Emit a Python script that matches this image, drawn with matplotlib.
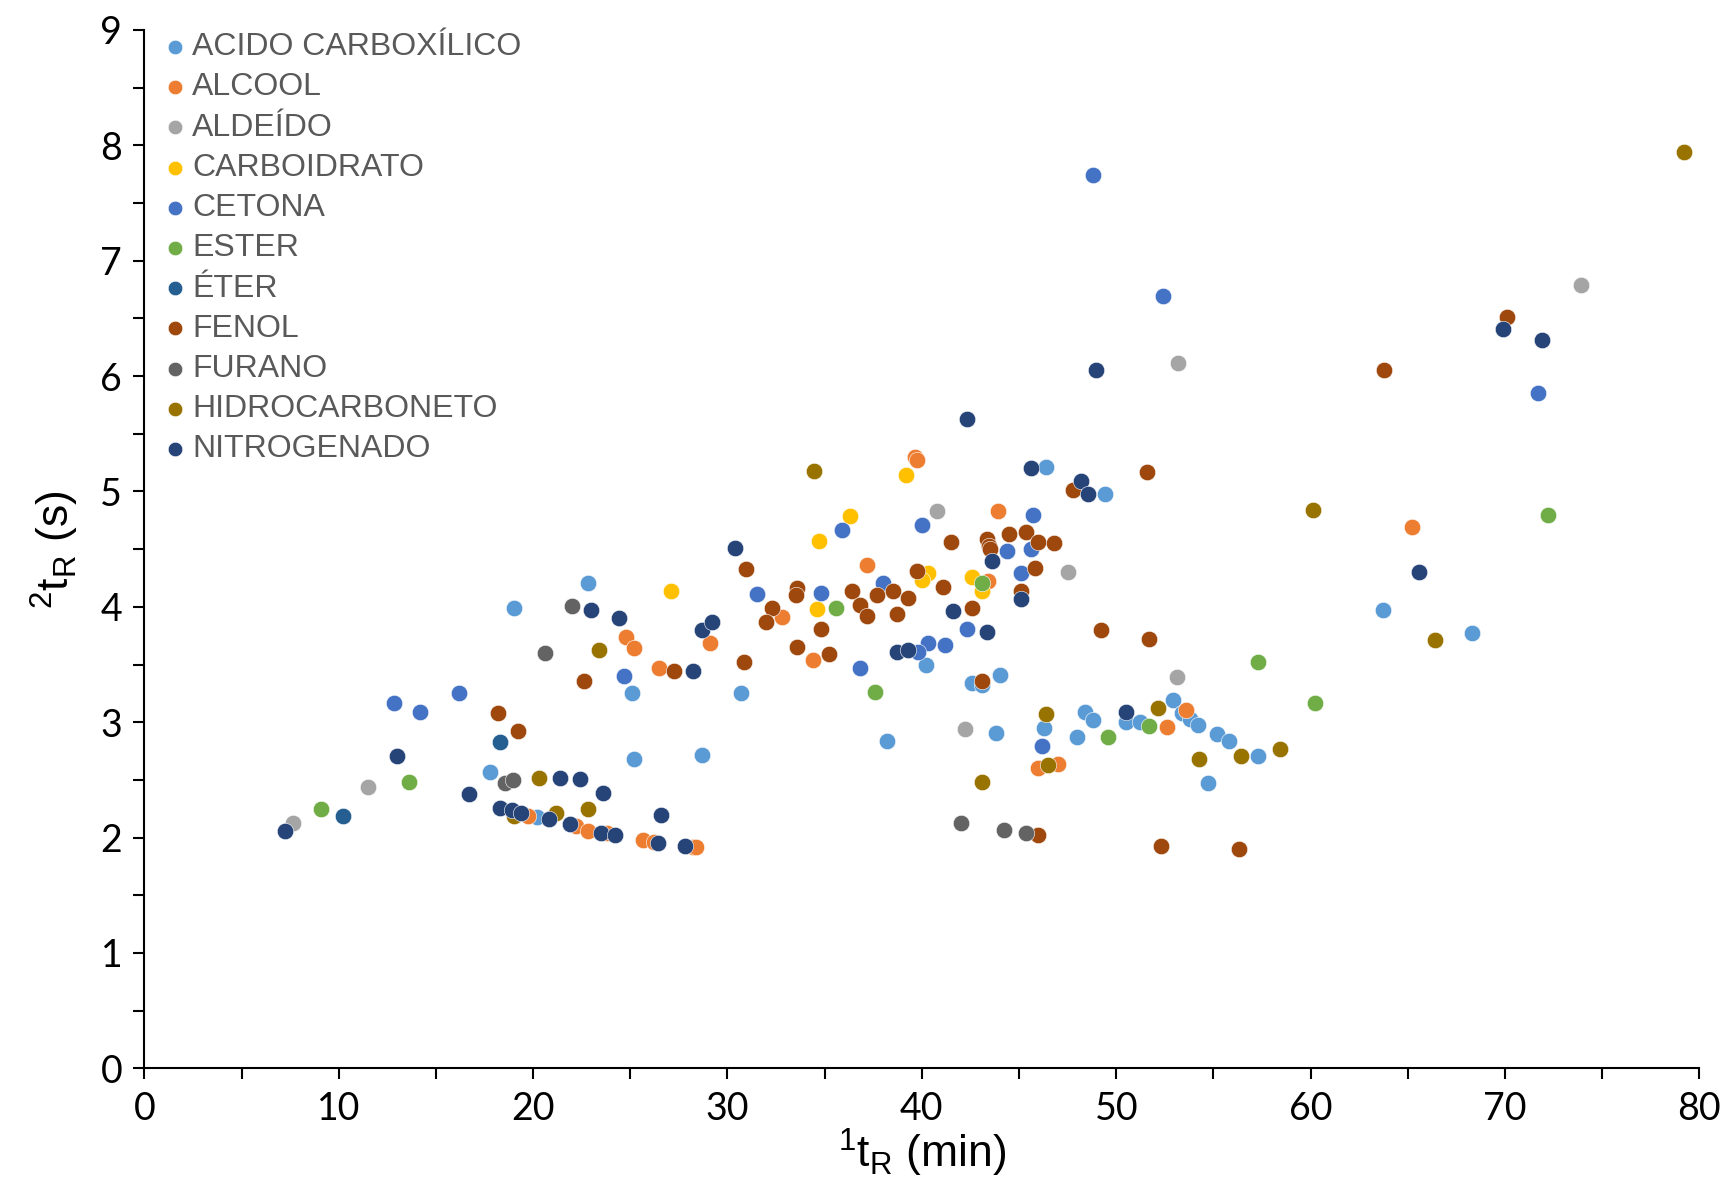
import matplotlib
matplotlib.use("Agg")
import matplotlib.pyplot as plt
from matplotlib.ticker import MultipleLocator

plt.rcParams['font.family'] = ['Liberation Sans', 'DejaVu Sans']
plt.rcParams['mathtext.default'] = 'regular'

categorias = ["ACIDO CARBOXÍLICO", "ALCOOL", "ALDEÍDO", "CARBOIDRATO", "CETONA", "ESTER",
              "ÉTER", "FENOL", "FURANO", "HIDROCARBONETO", "NITROGENADO"]
cores = ["#5B9BD5", "#ED7D31", "#A5A5A5", "#FFC000", "#4472C4", "#70AD47",
         "#255E91", "#9E480E", "#636363", "#997300", "#264478"]

acido_x = [19.0, 22.8, 17.8, 20.2, 25.1, 25.2, 28.7, 30.7, 46.4, 40.2, 42.6, 43.1, 44.0, 49.4, 38.2, 43.8,
           46.3, 48.4, 48.8, 48.0, 50.5, 51.2, 52.9, 53.4, 53.8, 54.2, 55.2, 55.8, 57.3, 54.7, 63.7, 68.3]
acido_y = [3.99, 4.21, 2.57, 2.18, 3.25, 2.68, 2.72, 3.25, 5.21, 3.50, 3.34, 3.32, 3.41, 4.98, 2.84, 2.91,
           2.95, 3.09, 3.02, 2.87, 3.00, 3.00, 3.19, 3.08, 3.03, 2.98, 2.90, 2.84, 2.71, 2.47, 3.97, 3.77]

alcool_x = [19.75, 22.2, 22.8, 23.8, 25.65, 26.2, 28.2, 28.4, 24.8, 25.2, 26.5, 29.1, 32.8, 39.65, 39.75,
            43.9, 37.2, 34.4, 43.4, 46.0, 47.0, 53.6, 52.6, 65.2]
alcool_y = [2.19, 2.10, 2.06, 2.04, 1.98, 1.96, 1.92, 1.92, 3.74, 3.64, 3.47, 3.69, 3.91, 5.30, 5.27,
            4.83, 4.36, 3.54, 4.22, 2.60, 2.64, 3.11, 2.96, 4.69]

aldeido_x = [7.65, 11.5, 40.8, 47.5, 53.1, 42.2, 53.2, 73.9]
aldeido_y = [2.13, 2.44, 4.83, 4.30, 3.39, 2.94, 6.11, 6.79]

carbo_x = [27.1, 39.2, 36.3, 34.7, 34.6, 40.3, 40.0, 42.6, 43.1]
carbo_y = [4.14, 5.14, 4.79, 4.57, 3.98, 4.29, 4.23, 4.26, 4.14]

cetona_x = [12.85, 14.2, 16.2, 24.7, 31.5, 34.8, 35.9, 40.0, 38.0, 45.7, 44.4, 45.6, 45.1, 42.3, 40.3,
            41.2, 39.8, 36.8, 46.2, 48.8, 52.4, 71.7]
cetona_y = [3.17, 3.09, 3.25, 3.40, 4.11, 4.12, 4.67, 4.71, 4.21, 4.80, 4.48, 4.50, 4.29, 3.81, 3.69,
            3.67, 3.61, 3.47, 2.79, 7.74, 6.69, 5.85]

ester_x = [9.1, 13.6, 35.6, 43.1, 37.6, 57.3, 60.2, 49.6, 51.7, 72.2]
ester_y = [2.25, 2.48, 3.99, 4.21, 3.26, 3.52, 3.17, 2.87, 2.97, 4.80]

eter_x = [10.2, 18.3]
eter_y = [2.19, 2.83]

fenol_x = [18.2, 19.2, 22.6, 27.25, 30.95, 32.3, 32.0, 30.85, 33.6, 33.5, 34.8, 33.6, 35.2, 36.4, 36.8,
           37.2, 37.7, 38.5, 39.3, 38.7, 39.75, 41.1, 41.5, 42.6, 43.35, 43.45, 43.5, 44.5, 45.35, 46.0,
           46.8, 45.8, 45.1, 43.1, 47.8, 51.6, 49.2, 51.7, 46.0, 52.3, 56.3, 70.1, 63.8]
fenol_y = [3.08, 2.92, 3.36, 3.44, 4.33, 3.99, 3.87, 3.52, 4.16, 4.10, 3.81, 3.65, 3.59, 4.14, 4.02,
           3.92, 4.10, 4.14, 4.08, 3.94, 4.31, 4.17, 4.56, 3.99, 4.59, 4.53, 4.50, 4.63, 4.65, 4.56,
           4.55, 4.34, 4.14, 3.36, 5.01, 5.17, 3.80, 3.72, 2.02, 1.93, 1.90, 6.51, 6.05]

furano_x = [22.0, 20.6, 18.55, 18.95, 42.0, 44.2, 45.35]
furano_y = [4.01, 3.60, 2.47, 2.50, 2.13, 2.07, 2.04]

hidro_x = [19.0, 20.3, 21.2, 22.8, 23.4, 34.45, 46.4, 46.5, 43.1, 52.15, 54.25, 56.4, 58.4, 60.1, 66.4, 79.2]
hidro_y = [2.19, 2.52, 2.21, 2.25, 3.63, 5.18, 3.07, 2.63, 2.48, 3.12, 2.68, 2.71, 2.77, 4.84, 3.71, 7.94]

nitro_x = [7.24, 13.0, 16.7, 18.3, 18.9, 19.4, 20.8, 21.4, 21.9, 22.4, 23.6, 23.5, 24.2, 26.6, 26.4, 27.8,
           23.0, 24.4, 28.7, 29.2, 28.2, 30.4, 43.6, 41.6, 43.35, 38.7, 39.3, 45.6, 45.1, 48.2, 48.55,
           50.5, 42.3, 48.95, 69.9, 71.9, 65.6]
nitro_y = [2.06, 2.71, 2.38, 2.26, 2.24, 2.21, 2.16, 2.52, 2.12, 2.51, 2.39, 2.04, 2.02, 2.20, 1.95, 1.93,
           3.97, 3.90, 3.80, 3.87, 3.44, 4.51, 4.40, 3.96, 3.78, 3.61, 3.63, 5.20, 4.07, 5.09, 4.98,
           3.09, 5.63, 6.05, 6.41, 6.31, 4.30]

series_x = [acido_x, alcool_x, aldeido_x, carbo_x, cetona_x, ester_x, eter_x, fenol_x, furano_x, hidro_x, nitro_x]
series_y = [acido_y, alcool_y, aldeido_y, carbo_y, cetona_y, ester_y, eter_y, fenol_y, furano_y, hidro_y, nitro_y]

fig = plt.figure(figsize=(17.27, 11.94), dpi=100)
ax = fig.add_axes([0.0836, 0.1052, 0.9004, 0.8698])

for nome, cor, xs, ys in zip(categorias, cores, series_x, series_y):
	ax.scatter(xs, ys, s=140, color=cor, edgecolors="white", linewidths=0.4, label=nome, zorder=3)

ax.set_xlim(0, 80)
ax.set_ylim(0, 9)
ax.xaxis.set_major_locator(MultipleLocator(10))
ax.xaxis.set_minor_locator(MultipleLocator(5))
ax.yaxis.set_major_locator(MultipleLocator(1))
ax.yaxis.set_minor_locator(MultipleLocator(0.5))
for s in ["top", "right"]:
	ax.spines[s].set_visible(False)
for s in ["left", "bottom"]:
	ax.spines[s].set_linewidth(1.5)
	ax.spines[s].set_color("black")
ax.tick_params(which="both", direction="out", length=8, width=1.5, color="black")
ax.tick_params(which="major", labelsize=27, pad=8)
for lab in ax.get_xticklabels() + ax.get_yticklabels():
	lab.set_family(["Lato", "DejaVu Sans"])

ax.set_xlabel("$^{1}$t$_{R}$ (min)", fontsize=32, labelpad=0)
ax.set_ylabel("$^{2}$t$_{R}$ (s)", fontsize=32, labelpad=14)

leg = ax.legend(loc="upper left", bbox_to_anchor=(0.001, 1.01), frameon=False, fontsize=23,
                labelspacing=0.32, handletextpad=0.05, handlelength=1.0, markerscale=0.88,
                borderaxespad=0.0)
for t in leg.get_texts():
	t.set_color("#595959")

fig.savefig("out.png", dpi=100)
